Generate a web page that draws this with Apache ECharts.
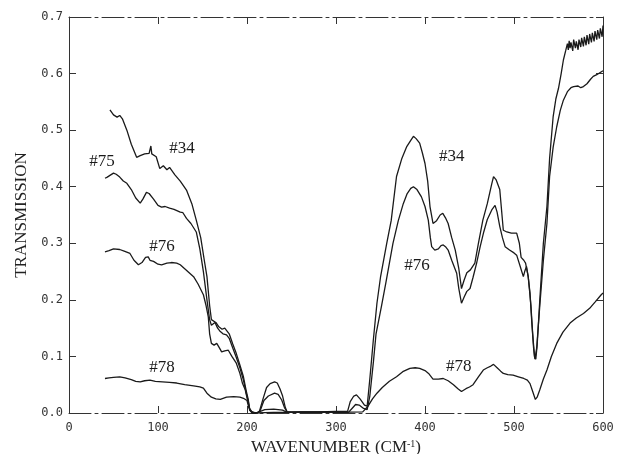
<!DOCTYPE html>
<html><head><meta charset="utf-8">
<script src="https://cdn.jsdelivr.net/npm/echarts@6/dist/echarts.min.js"></script>
<style>html,body{margin:0;padding:0;background:#fff}#c{width:620px;height:454px}</style>
</head><body><div id="c"></div>
<script>
// ---- data (wavenumber cm^-1, transmission) ----
const s34 = [[46,0.536],[50,0.527],[54,0.523],[57,0.526],[60,0.52],[65,0.5],[70,0.475],[76,0.452],[80,0.455],[85,0.458],[90,0.459],[92,0.472],[93,0.458],[98,0.453],[102,0.432],[106,0.437],[110,0.43],[113,0.434],[119,0.421],[125,0.41],[132,0.394],[138,0.37],[143,0.341],[148,0.31],[152,0.27],[155,0.241],[158,0.19],[160,0.165],[162,0.167],[165,0.16],[168,0.153],[172,0.148],[175,0.15],[177,0.147],[180,0.14],[184,0.122],[188,0.105],[192,0.085],[196,0.064],[199,0.04],[201.5,0.023],[203,0.005],[206,0],[210,0],[214,0.003],[218,0.025],[222,0.045],[226,0.052],[231,0.055],[234,0.053],[237,0.043],[240,0.03],[243,0.01],[245,0.002],[250,0.001],[260,0.002],[280,0.002],[300,0.003],[313,0.003],[316,0.02],[320,0.03],[323,0.032],[327,0.025],[332,0.014],[335,0.012],[338,0.06],[342,0.13],[346,0.194],[350,0.24],[357,0.3],[362,0.34],[368,0.418],[374,0.45],[379.5,0.471],[384,0.482],[387,0.489],[390,0.485],[394,0.477],[397,0.46],[400,0.441],[403,0.41],[405.6,0.365],[409,0.335],[413,0.34],[417,0.35],[420,0.353],[423,0.345],[426,0.335],[430,0.31],[434,0.288],[438,0.255],[441,0.22],[444,0.235],[447,0.248],[451,0.253],[456,0.265],[460,0.3],[465,0.341],[470,0.37],[475,0.405],[477,0.418],[480,0.412],[484,0.395],[488,0.323],[492,0.32],[497,0.318],[503,0.318],[506,0.3],[508,0.275],[511,0.27],[513,0.265],[516,0.241],[519,0.19],[521,0.14],[523,0.1],[524.5,0.095],[526,0.12],[529,0.2],[533,0.3],[537,0.365],[540,0.45],[544,0.524],[547,0.555],[550,0.574],[553,0.6],[555.5,0.624],[558,0.64],[560,0.653],[561,0.642],[562,0.658],[563,0.645],[564,0.655],[566,0.64],[567,0.66],[569,0.645],[570,0.657],[572,0.642],[573,0.66],[575,0.647],[576,0.663],[578,0.648],[579,0.665],[581,0.65],[582,0.668],[584,0.652],[585,0.67],[587,0.655],[588,0.672],[590,0.657],[591,0.675],[593,0.66],[594,0.677],[596,0.662],[597,0.68],[599,0.665],[600,0.685]];
const s75 = [[40.5,0.415],[43,0.417],[46,0.42],[50,0.424],[53,0.422],[57,0.417],[61,0.41],[65,0.406],[70,0.395],[75,0.38],[80,0.371],[83,0.378],[87,0.39],[90,0.388],[95,0.378],[100,0.367],[104,0.364],[108,0.365],[113,0.362],[118,0.36],[125,0.355],[128,0.354],[132,0.344],[137,0.335],[143,0.32],[147,0.29],[151,0.25],[155,0.2],[158,0.165],[160,0.155],[162,0.158],[164,0.16],[167,0.15],[170,0.144],[173,0.14],[177,0.138],[180,0.132],[184,0.115],[188,0.098],[192,0.08],[196,0.058],[199,0.036],[201.5,0.02],[203,0.005],[206,0],[212,0],[215,0.005],[219,0.022],[224,0.03],[231,0.035],[235,0.033],[239,0.023],[242,0.01],[245,0.002],[260,0.002],[300,0.002]];
const s76 = [[40.4,0.285],[45,0.287],[50,0.29],[57,0.289],[62,0.286],[68.5,0.282],[73,0.27],[78,0.262],[82,0.266],[86,0.275],[89,0.276],[91,0.27],[95,0.268],[100,0.263],[104,0.262],[110,0.265],[115,0.266],[121,0.265],[125,0.262],[130,0.255],[135,0.248],[140,0.241],[145,0.228],[151,0.209],[154,0.19],[156.5,0.17],[158,0.14],[160,0.123],[163,0.12],[166,0.123],[169,0.115],[171.5,0.108],[175,0.11],[179,0.111],[183,0.1],[188,0.088],[192,0.07],[195,0.052],[198,0.041],[201,0.02],[203,0.008],[206,0],[212,0],[215,0.003],[220,0.006],[230,0.007],[240,0.005],[245,0.001],[260,0.001],[300,0.001],[314,0.001],[318,0.008],[322,0.015],[326,0.014],[331,0.008],[335,0.006],[338,0.03],[342,0.09],[345,0.14],[351,0.188],[356,0.23],[360,0.265],[364,0.3],[370,0.34],[375.6,0.37],[380,0.388],[384,0.397],[387,0.4],[391,0.395],[396,0.382],[400,0.365],[403.7,0.341],[406,0.31],[407.5,0.294],[411,0.288],[415,0.29],[418,0.296],[420.5,0.297],[423,0.294],[426,0.288],[430,0.27],[435.6,0.247],[438,0.22],[441,0.194],[444,0.205],[447,0.215],[450.6,0.22],[454,0.24],[458,0.265],[462,0.294],[466,0.32],[470,0.342],[475,0.359],[478.7,0.367],[481,0.355],[484,0.33],[487,0.31],[490,0.294],[495,0.288],[500,0.283],[503,0.279],[507,0.259],[510.5,0.241],[512,0.25],[514,0.259],[516,0.24],[518,0.212],[520,0.16],[522,0.115],[523.5,0.095],[525.5,0.115],[529,0.19],[533,0.27],[537,0.335],[540,0.418],[544,0.47],[548,0.506],[552,0.535],[555.5,0.553],[560,0.568],[564,0.575],[567,0.577],[572,0.578],[575,0.575],[578,0.577],[582,0.582],[586,0.59],[589,0.595],[593,0.598],[596,0.601],[600,0.605]];
const s78 = [[40.4,0.061],[45,0.062],[50,0.063],[57,0.064],[63,0.062],[70,0.059],[75,0.056],[80,0.055],[85,0.057],[91,0.058],[97,0.056],[105,0.055],[113,0.054],[121,0.053],[130,0.05],[140,0.048],[147,0.046],[151,0.044],[155,0.035],[160,0.028],[165,0.025],[170,0.024],[177,0.028],[185,0.029],[192,0.028],[196,0.026],[200,0.022],[202,0.01],[205,0.003],[210,0],[230,0.001],[260,0.001],[300,0.001],[330,0.002],[336,0.012],[341,0.025],[346,0.035],[352,0.045],[360,0.056],[368,0.064],[375,0.073],[383,0.079],[389,0.08],[394,0.079],[400,0.075],[404,0.07],[409,0.06],[415,0.06],[420.5,0.061],[426,0.057],[432,0.05],[437,0.043],[441,0.038],[446,0.043],[450,0.046],[454,0.05],[460,0.064],[465.5,0.076],[470,0.08],[474,0.083],[477,0.086],[481,0.08],[485,0.074],[488,0.07],[493,0.068],[499,0.067],[505,0.064],[511,0.061],[515,0.058],[518,0.052],[521,0.038],[524,0.024],[526,0.028],[529,0.041],[533,0.06],[537,0.076],[542,0.1],[548,0.123],[555,0.143],[563,0.159],[570,0.168],[578,0.176],[585,0.185],[591,0.196],[598,0.209],[600,0.212]];

const xRange = [0, 600];
const xStep = 100;
const yRange = [0, 0.7];
const yStep = 0.1;
const xTitle = 'WAVENUMBER (CM';
const xTitleSup = '-1';
const yTitle = 'TRANSMISSION';
const curveLabels = [
  {text:'#75', x:37, y:0.445},
  {text:'#34', x:127, y:0.467},
  {text:'#76', x:104.5, y:0.295},
  {text:'#78', x:104.5, y:0.081},
  {text:'#34', x:430, y:0.454},
  {text:'#76', x:391, y:0.26},
  {text:'#78', x:438, y:0.083}
];

// ---- chart ----
const chart = echarts.init(document.getElementById('c'), null, {renderer:'canvas'});
const ink = '#1a1a1a';
const mono = '"DejaVu Sans Mono", monospace';
const serif = '"Liberation Serif", "DejaVu Serif", serif';
const axisBase = {
  type:'value', splitLine:{show:false},
  axisLine:{show:true, onZero:false, lineStyle:{color:'#333', width:1}},
  axisTick:{show:true, inside:true, length:7, lineStyle:{color:'#333', width:1}}
};
function line(data){
  return {type:'line', data:data, showSymbol:false, symbol:'none', smooth:false,
    xAxisIndex:0, yAxisIndex:0, lineStyle:{color:ink, width:1.3}, silent:true};
}
chart.setOption({
  animation:false,
  backgroundColor:'#fff',
  grid:{left:69, right:17, top:17, bottom:41, containLabel:false, outerBoundsMode:'none'},
  xAxis:[
    Object.assign({}, axisBase, {position:'bottom', min:xRange[0], max:xRange[1], interval:xStep,
      axisLine:{show:true, onZero:false, lineStyle:{color:'#333', width:1, type:[22,4,3,4]}},
      axisLabel:{margin:9, color:'#333', fontFamily:mono, fontSize:12},
      name:'{a|'+xTitle+'}{s|'+xTitleSup+'}{a|)}', nameLocation:'middle', nameGap:25,
      nameTextStyle:{rich:{a:{fontFamily:serif, fontSize:17, color:'#222'}, s:{fontFamily:serif, fontSize:10, color:'#222', verticalAlign:'top', padding:[0,0,8,0]}}}
    }),
    Object.assign({}, axisBase, {position:'top', min:xRange[0], max:xRange[1], interval:xStep,
      axisLine:{show:true, onZero:false, lineStyle:{color:'#333', width:1, type:[22,4,3,4]}},
      axisLabel:{show:false}})
  ],
  yAxis:[
    Object.assign({}, axisBase, {position:'left', min:yRange[0], max:yRange[1], interval:yStep,
      axisLabel:{margin:6, color:'#333', fontFamily:mono, fontSize:12, formatter:v=>v.toFixed(1)},
      name:yTitle, nameLocation:'middle', nameGap:38, nameRotate:90,
      nameTextStyle:{fontFamily:serif, fontSize:17, color:'#222'}}),
    Object.assign({}, axisBase, {position:'right', min:yRange[0], max:yRange[1], interval:yStep,
      axisLabel:{show:false}})
  ],
  series:[line(s34), line(s75), line(s76), line(s78)]
});
const g = curveLabels.map(l=>{
  const p = chart.convertToPixel({xAxisIndex:0, yAxisIndex:0}, [l.x, l.y]);
  return {type:'text', x:p[0], y:p[1], silent:true,
    style:{text:l.text, fill:'#1a1a1a', font:'17px "Liberation Serif", serif', align:'center', verticalAlign:'middle'}};
});
chart.setOption({graphic:g});
</script></body></html>
